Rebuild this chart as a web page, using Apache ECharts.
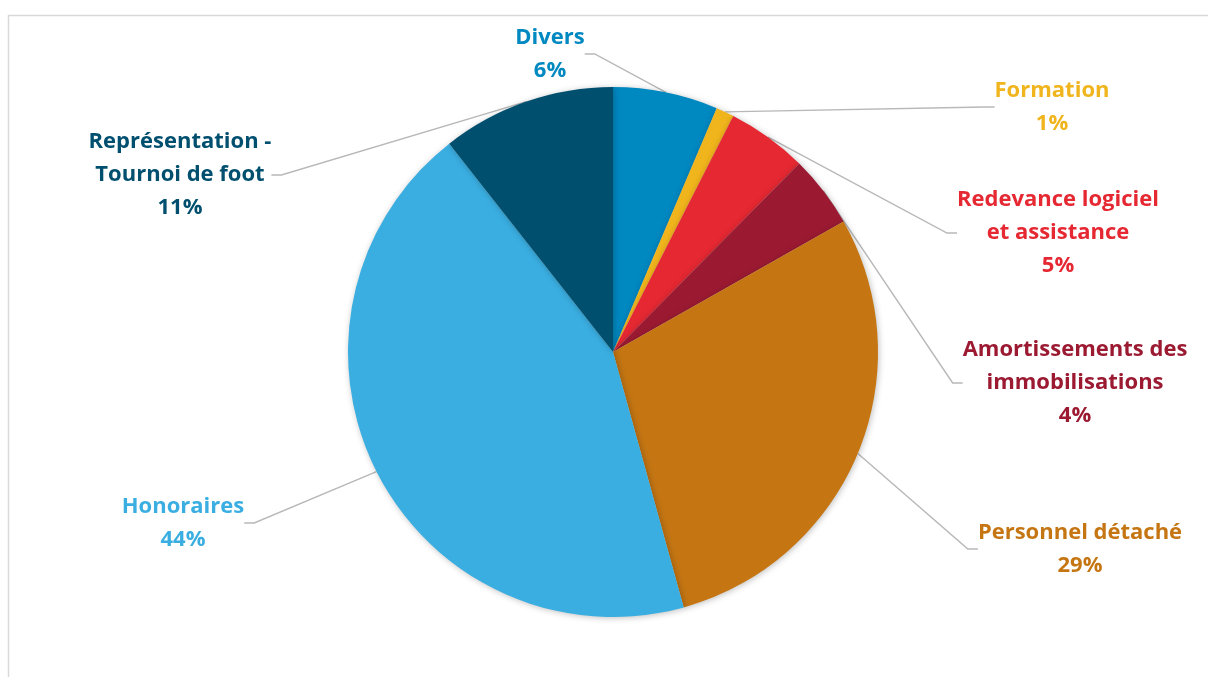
<!DOCTYPE html>
<html><head><meta charset="utf-8">
<script src="https://cdn.jsdelivr.net/npm/echarts@6/dist/echarts.min.js"></script>
<style>html,body{margin:0;padding:0;background:#fff}#c{width:1208px;height:677px}</style>
</head><body><div id="c"></div>
<script>
// Data
const categories = ['Divers', 'Formation', 'Redevance logiciel\net assistance', 'Amortissements des\nimmobilisations', 'Personnel détaché', 'Honoraires', 'Représentation -\nTournoi de foot'];
const shares = [6.4, 1.1, 4.9, 4.4, 28.9, 43.7, 10.6];

// Styles / layout
const colors = ['#0088C1', '#F0B41C', '#E52832', '#9B1A32', '#C57613', '#3AAEE1', '#004F6F'];
const labelCenters = [[550, 54], [1052, 107], [1058, 233], [1075, 383], [1080, 549], [183, 523], [180, 175]];

const chart = echarts.init(document.getElementById('c'), null, {renderer: 'canvas'});
chart.setOption({
  animation: false,
  backgroundColor: '#fff',
  graphic: [{
    type: 'rect', z: -10,
    shape: {x: 8.5, y: 15.5, width: 1400, height: 800},
    style: {fill: 'none', stroke: '#d9d9d9', lineWidth: 1.5}
  }],
  series: [{
    type: 'pie',
    center: [613, 352],
    radius: 265,
    startAngle: 90,
    clockwise: true,
    itemStyle: {shadowBlur: 6, shadowColor: 'rgba(0,0,0,0.25)', shadowOffsetX: 1, shadowOffsetY: 1},
    label: {
      show: true,
      fontFamily: 'Open Sans',
      fontWeight: 'bold',
      fontSize: 22,
      lineHeight: 33,
      align: 'center',
      formatter: p => p.name + '\n' + Math.round(p.percent) + '%'
    },
    labelLine: {show: true, length: 20, length2: 10, lineStyle: {color: '#B8B8B8', width: 1.4}},
    labelLayout: p => ({
      x: labelCenters[p.dataIndex][0],
      y: labelCenters[p.dataIndex][1],
      align: 'center',
      verticalAlign: 'middle'
    }),
    data: categories.map((n, i) => ({
      name: n, value: shares[i],
      itemStyle: {color: colors[i]},
      label: {color: colors[i]}
    }))
  }]
});
</script></body></html>
